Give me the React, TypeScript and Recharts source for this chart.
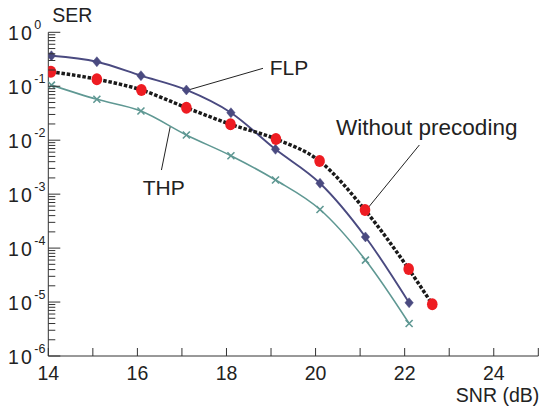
import React from 'react';
import { LineChart, Line, XAxis, YAxis, ReferenceLine, ReferenceDot } from 'recharts';

// ---- data ----
const snr = [14.07, 15.09, 16.08, 17.1, 18.1, 19.1, 20.1, 21.12, 22.1];
const snrNoPrecoding = [14.06, 15.09, 16.09, 17.1, 18.09, 19.11, 20.09, 21.11, 22.09, 22.62];
const serFlp = [0.368, 0.285, 0.157, 0.0853, 0.0323, 0.00678, 0.00159, 1.61e-4, 9.7e-6];
const serThp = [0.105, 0.0573, 0.0348, 0.0125, 0.00516, 0.00183, 5.19e-4, 6.0e-5, 4.0e-6];
const serNoPrecoding = [0.186, 0.135, 0.0853, 0.04, 0.0197, 0.0105, 0.00411, 5.08e-4, 4.1e-5, 9.1e-6];

const xTicks = [14, 15, 16, 17, 18, 19, 20, 21, 22, 23, 24, 25];
const xTickLabels = [14, 16, 18, 20, 22, 24];
const yDecadeExponents = [-6, -5, -4, -3, -2, -1, 0];
const yMinorMultipliers = [2, 3, 4, 5, 6, 7, 8, 9];

const yTicks: number[] = [];
yDecadeExponents.forEach((e) => {
  yTicks.push(Math.pow(10, e));
  if (e < 0) yMinorMultipliers.forEach((m) => yTicks.push(m * Math.pow(10, e)));
});
yTicks.sort((a, b) => a - b);

const flpData = snr.map((x, i) => ({ x, y: serFlp[i] }));
const thpData = snr.map((x, i) => ({ x, y: serThp[i] }));
const npData = snrNoPrecoding.map((x, i) => ({ x, y: serNoPrecoding[i] }));

const FONT = '"Liberation Sans", Arial, Helvetica, sans-serif';
const TXT = '#222';
const AX = '#333';

const isMajor = (v: number) => {
  const lg = Math.log10(v);
  return Math.abs(lg - Math.round(lg)) < 1e-6;
};

const BottomTick = (p: any) => {
  const { x, y, payload } = p;
  const v = payload.value;
  return (
    <g>
      <line x1={x} x2={x} y1={y} y2={y - 8} stroke={AX} strokeWidth={1} />
      {xTickLabels.includes(v) && (
        <text x={x} y={y + 24} textAnchor="middle" fontFamily={FONT} fontSize={19.5} fill={TXT}>
          {v}
        </text>
      )}
    </g>
  );
};

const TopTick = (p: any) => {
  const { x, y } = p;
  return <line x1={x} x2={x} y1={y} y2={y + 8} stroke={AX} strokeWidth={1} />;
};

const LeftTick = (p: any) => {
  const { x, y, payload } = p;
  const v = payload.value;
  const major = isMajor(v);
  const exp = Math.round(Math.log10(v));
  return (
    <g>
      <line x1={x} x2={x + (major ? 12 : 7)} y1={y} y2={y} stroke={AX} strokeWidth={1} />
      {major && (
        <g>
          <text x={x - 14.5} y={y + 8} textAnchor="end" fontFamily={FONT} fontSize={19.5} letterSpacing={2} fill={TXT}>
            10
          </text>
          <text x={x - 14} y={y - 3} textAnchor="start" fontFamily={FONT} fontSize={12.5} fill={TXT}>
            {exp}
          </text>
        </g>
      )}
    </g>
  );
};

const RightTick = (p: any) => {
  const { x, y, payload } = p;
  const major = isMajor(payload.value);
  return <line x1={x} x2={x - (major ? 10 : 7)} y1={y} y2={y} stroke={AX} strokeWidth={1} />;
};

const Diamond = (p: any) => {
  const { cx, cy } = p;
  if (cx == null || cy == null) return null;
  return (
    <polygon
      points={`${cx},${cy - 5} ${cx + 4.2},${cy} ${cx},${cy + 5} ${cx - 4.2},${cy}`}
      fill="#4a4a80"
      stroke="#4a4a80"
      strokeWidth={0.5}
    />
  );
};

const Cross = (p: any) => {
  const { cx, cy } = p;
  if (cx == null || cy == null) return null;
  const s = 3.5;
  return (
    <g stroke="#5f9893" strokeWidth={1.6}>
      <line x1={cx - s} y1={cy - s} x2={cx + s} y2={cy + s} />
      <line x1={cx - s} y1={cy + s} x2={cx + s} y2={cy - s} />
    </g>
  );
};

const RedDot = (p: any) => {
  const { cx, cy } = p;
  if (cx == null || cy == null) return null;
  return <ellipse cx={cx} cy={cy} rx={5.3} ry={6} fill="#ee1c22" />;
};

const textShape = (label: string, size: number) => (p: any) => (
  <text x={p.cx} y={p.cy} fontFamily={FONT} fontSize={size} fill={TXT}>
    {label}
  </text>
);

export default function App() {
  return (
    <div style={{ position: 'absolute', left: 0, top: 0, width: 539, height: 409, background: '#fff' }}>
      <LineChart width={539} height={409} margin={{ top: 32.3, right: 0.7, bottom: 0, left: 0 }}>
        <XAxis
          xAxisId="b"
          type="number"
          dataKey="x"
          domain={[14, 25]}
          ticks={xTicks}
          interval={0}
          height={53}
          tickSize={0}
          tickMargin={0}
          tickLine={false}
          axisLine={{ stroke: AX, strokeWidth: 1 }}
          tick={<BottomTick />}
          allowDataOverflow
          label={{
            content: (p: any) => {
              const vb = p.viewBox || {};
              return (
                <text x={vb.x + vb.width + 1} y={vb.y + 45.5} textAnchor="end" fontFamily={FONT} fontSize={19.5} fill={TXT}>
                  SNR (dB)
                </text>
              );
            },
          }}
        />
        <XAxis
          xAxisId="t"
          orientation="top"
          type="number"
          dataKey="x"
          domain={[14, 25]}
          ticks={xTicks}
          interval={0}
          height={0}
          tickSize={0}
          tickMargin={0}
          tickLine={false}
          axisLine={{ stroke: AX, strokeWidth: 1 }}
          tick={<TopTick />}
          allowDataOverflow
        />
        <YAxis
          yAxisId="l"
          type="number"
          scale="log"
          domain={[1e-6, 1]}
          ticks={yTicks}
          interval={0}
          width={48.3}
          tickSize={0}
          tickMargin={0}
          tickLine={false}
          axisLine={{ stroke: AX, strokeWidth: 1 }}
          tick={<LeftTick />}
          allowDataOverflow
          label={{
            content: (p: any) => {
              const vb = p.viewBox || {};
              return (
                <text x={vb.x + vb.width + 4} y={vb.y - 10.6} fontFamily={FONT} fontSize={19.5} fill={TXT}>
                  SER
                </text>
              );
            },
          }}
        />
        <YAxis
          yAxisId="r"
          orientation="right"
          type="number"
          scale="log"
          domain={[1e-6, 1]}
          ticks={yTicks}
          interval={0}
          width={0}
          tickSize={0}
          tickMargin={0}
          tickLine={false}
          axisLine={{ stroke: AX, strokeWidth: 1 }}
          tick={<RightTick />}
          allowDataOverflow
        />

        <ReferenceLine xAxisId="b" yAxisId="l" segment={[{ x: 18.82, y: 0.215 }, { x: 17.14, y: 0.0852 }]} stroke="#222" strokeWidth={1} />
        <ReferenceLine xAxisId="b" yAxisId="l" segment={[{ x: 16.74, y: 0.0183 }, { x: 16.54, y: 0.0028 }]} stroke="#222" strokeWidth={1} />
        <ReferenceLine xAxisId="b" yAxisId="l" segment={[{ x: 22.33, y: 0.00815 }, { x: 21.17, y: 5.47e-4 }]} stroke="#222" strokeWidth={1} />

        <Line
          data={thpData}
          xAxisId="b"
          yAxisId="l"
          dataKey="y"
          type="monotone"
          stroke="#5f9893"
          strokeWidth={1.6}
          dot={(p: any) => <Cross key={`t${p.index}`} {...p} />}
          activeDot={false}
          isAnimationActive={false}
        />
        <Line
          data={flpData}
          xAxisId="b"
          yAxisId="l"
          dataKey="y"
          type="monotone"
          stroke="#4a4a80"
          strokeWidth={1.9}
          dot={(p: any) => <Diamond key={`f${p.index}`} {...p} />}
          activeDot={false}
          isAnimationActive={false}
        />
        <Line
          data={npData}
          xAxisId="b"
          yAxisId="l"
          dataKey="y"
          type="monotone"
          stroke="#1a1a1a"
          strokeWidth={3.5}
          strokeDasharray="3.5 1.8"
          dot={(p: any) => <RedDot key={`n${p.index}`} {...p} />}
          activeDot={false}
          isAnimationActive={false}
        />

        <ReferenceDot xAxisId="b" yAxisId="l" x={18.97} y={0.165} r={0} shape={textShape('FLP', 21)} />
        <ReferenceDot xAxisId="b" yAxisId="l" x={16.12} y={9.6e-4} r={0} shape={textShape('THP', 21)} />
        <ReferenceDot xAxisId="b" yAxisId="l" x={20.46} y={0.0125} r={0} shape={textShape('Without precoding', 22.5)} />
      </LineChart>
    </div>
  );
}
